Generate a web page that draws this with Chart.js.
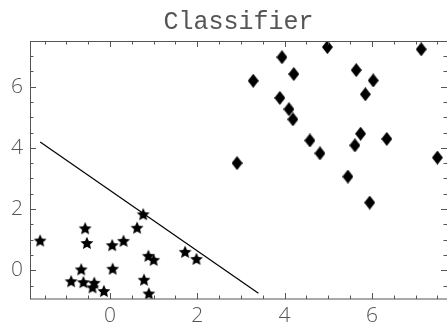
<!DOCTYPE html>
<html>
<head>
<meta charset="utf-8">
<script src="https://cdn.jsdelivr.net/npm/chart.js@4"></script>
<style>
  body { margin: 0; background: #fff; }
</style>
</head>
<body>
<canvas id="chart" width="447" height="327"></canvas>
<script>
// class 1 (stars)
const starX = [-1.60, -0.57, -0.53, -0.66, -0.89, -0.61, -0.36, -0.40, -0.14, 0.05,
               0.06, 0.31, 0.62, 0.76, 0.88, 1.00, 0.78, 0.89, 1.72, 1.98];
const starY = [0.97, 1.37, 0.89, 0.03, -0.36, -0.39, -0.41, -0.56, -0.68, 0.82,
               0.05, 0.96, 1.39, 1.83, 0.47, 0.34, -0.31, -0.76, 0.60, 0.37];

// class 2 (diamonds)
const diamondX = [4.98, 7.13, 3.94, 3.28, 4.21, 5.64, 6.03, 5.85, 3.89, 4.10,
                  4.19, 5.74, 4.58, 5.61, 6.34, 4.81, 7.50, 2.91, 5.45, 5.95];
const diamondY = [7.29, 7.22, 6.96, 6.19, 6.41, 6.54, 6.20, 5.75, 5.63, 5.26,
                  4.93, 4.46, 4.24, 4.08, 4.29, 3.82, 3.68, 3.50, 3.06, 2.21];

// decision boundary
const boundaryX = [-1.60, 3.40];
const boundaryY = [4.19, -0.75];

const xTickValues = [0, 2, 4, 6];
const yTickValues = [0, 2, 4, 6];

const toPoints = (xs, ys) => xs.map((x, i) => ({ x: x, y: ys[i] }));

// filled five point star
const makeStar = (r) => {
  const c = document.createElement('canvas');
  c.width = c.height = Math.ceil(r * 2 + 2);
  const g = c.getContext('2d');
  const cx = c.width / 2, cy = c.height / 2 + 0.5;
  g.beginPath();
  for (let i = 0; i < 10; i++) {
    const rad = i % 2 ? r * 0.47 : r;
    const a = -Math.PI / 2 + i * Math.PI / 5;
    const px = cx + rad * Math.cos(a), py = cy + rad * Math.sin(a);
    if (i === 0) g.moveTo(px, py); else g.lineTo(px, py);
  }
  g.closePath();
  g.fillStyle = '#000';
  g.fill();
  return c;
};

// tall diamond
const makeDiamond = (w, h) => {
  const c = document.createElement('canvas');
  c.width = w; c.height = h;
  const g = c.getContext('2d');
  g.beginPath();
  g.moveTo(w / 2, 0);
  g.lineTo(w, h / 2);
  g.lineTo(w / 2, h);
  g.lineTo(0, h / 2);
  g.closePath();
  g.fillStyle = '#000';
  g.fill();
  return c;
};

const frameTicks = {
  id: 'frameTicks',
  afterDatasetsDraw(chart) {
    const { ctx, chartArea: a, scales: { x, y } } = chart;
    ctx.save();
    ctx.strokeStyle = '#555';
    ctx.lineWidth = 1;
    ctx.strokeRect(a.left + 0.5, a.top + 0.5, a.right - a.left, a.bottom - a.top - 0.5);
    ctx.beginPath();
    for (let v = Math.ceil(x.min * 2) / 2; v <= x.max; v += 0.5) {
      const len = xTickValues.includes(v) ? 6 : 3.5;
      const px = Math.round(x.getPixelForValue(v)) + 0.5;
      ctx.moveTo(px, a.bottom); ctx.lineTo(px, a.bottom - len);
      ctx.moveTo(px, a.top); ctx.lineTo(px, a.top + len);
    }
    for (let v = Math.ceil(y.min * 2) / 2; v <= y.max; v += 0.5) {
      const len = yTickValues.includes(v) ? 6 : 3.5;
      const py = Math.round(y.getPixelForValue(v)) + 0.5;
      ctx.moveTo(a.left, py); ctx.lineTo(a.left + len, py);
      ctx.moveTo(a.right, py); ctx.lineTo(a.right - len, py);
    }
    ctx.stroke();
    ctx.restore();
  }
};

const tickFont = { family: "'Open Sans', 'DejaVu Sans', sans-serif", size: 21, weight: 300 };

new Chart(document.getElementById('chart'), {
  type: 'scatter',
  data: {
    datasets: [
      {
        type: 'line',
        data: toPoints(boundaryX, boundaryY),
        borderColor: '#000',
        borderWidth: 1.2,
        pointRadius: 0,
        fill: false
      },
      {
        data: toPoints(starX, starY),
        pointStyle: makeStar(6.8),
        pointRadius: 6
      },
      {
        data: toPoints(diamondX, diamondY),
        pointStyle: makeDiamond(11, 14),
        pointRadius: 6
      }
    ]
  },
  options: {
    responsive: false,
    animation: false,
    layout: { padding: 0, autoPadding: false },
    plugins: {
      legend: { display: false },
      tooltip: { enabled: false },
      title: {
        display: true,
        text: 'Classifier',
        fullSize: false,
        color: '#555',
        font: { family: "'Liberation Mono', 'Courier New', monospace", size: 25, weight: 'normal' },
        padding: { top: 7, bottom: 4 }
      }
    },
    scales: {
      x: {
        type: 'linear',
        min: -1.833,
        max: 7.72,
        afterBuildTicks: (s) => { s.ticks = xTickValues.map(v => ({ value: v })); },
        afterFit: (s) => { s.height = 28; s.paddingLeft = 0; s.paddingRight = 0; },
        grid: { display: false, drawTicks: false },
        border: { display: false },
        ticks: { font: tickFont, color: '#555', padding: 4, maxRotation: 0, autoSkip: false }
      },
      y: {
        type: 'linear',
        min: -0.94,
        max: 7.49,
        afterBuildTicks: (s) => { s.ticks = yTickValues.map(v => ({ value: v })); },
        afterFit: (s) => { s.width = 30; s.paddingTop = 0; s.paddingBottom = 0; },
        grid: { display: false, drawTicks: false },
        border: { display: false },
        ticks: { font: tickFont, color: '#555', padding: 7, autoSkip: false }
      }
    }
  },
  plugins: [frameTicks]
});
</script>
</body>
</html>
